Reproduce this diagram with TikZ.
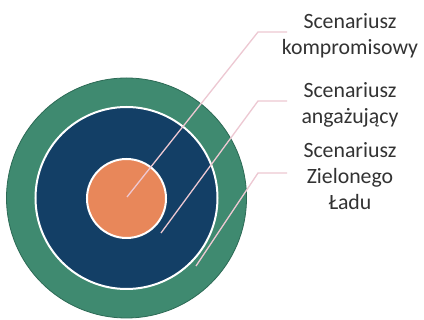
\documentclass[tikz,border=0pt]{standalone}
\usepackage{fontspec}
\setmainfont{Carlito}
\definecolor{ringgreen}{HTML}{3F8A70}
\definecolor{ringedge}{HTML}{2C6A55}
\definecolor{navy}{HTML}{133F66}
\definecolor{coral}{HTML}{E8875A}
\definecolor{leader}{HTML}{EDC8D2}
\definecolor{txt}{HTML}{333333}
\begin{document}
\begin{tikzpicture}[x=1pt,y=-1pt,
  disc/.style={circle,inner sep=0pt,minimum size=#1},
  leaderline/.style={draw=leader,line width=1.3pt},
  lbl/.style={font=\fontsize{21.8}{26}\selectfont,text=txt,align=center,inner sep=0pt}]
\useasboundingbox[fill=white] (0,0) rectangle (424,320);
\node[disc=240pt,fill=ringgreen,draw=ringedge,line width=0.8pt] (outer) at (126.5,198) {};
\node[disc=182pt,fill=navy,draw=white,line width=2pt] (mid) at (126.5,198) {};
\node[disc=79pt,fill=coral,draw=white,line width=2pt] (core) at (126.5,198.5) {};
\coordinate (p1) at (127,197);
\coordinate (p2) at (161,233);
\coordinate (p3) at (196,266);
\coordinate (k1) at (258,32);
\coordinate (k2) at (258,101);
\coordinate (k3) at (258,173);
\coordinate (e1) at (287,32);
\coordinate (e2) at (287,101);
\coordinate (e3) at (287,173);
\draw[leaderline] (p1) -- (k1) -- (e1);
\draw[leaderline] (p2) -- (k2) -- (e2);
\draw[leaderline] (p3) -- (k3) -- (e3);
\node[lbl] (l1) at (350,36) {Scenariusz\\kompromisowy};
\node[lbl] (l2) at (350,105) {Scenariusz\\angażujący};
\node[lbl] (l3) at (350,176) {Scenariusz\\Zielonego\\Ładu};
\end{tikzpicture}
\end{document}
